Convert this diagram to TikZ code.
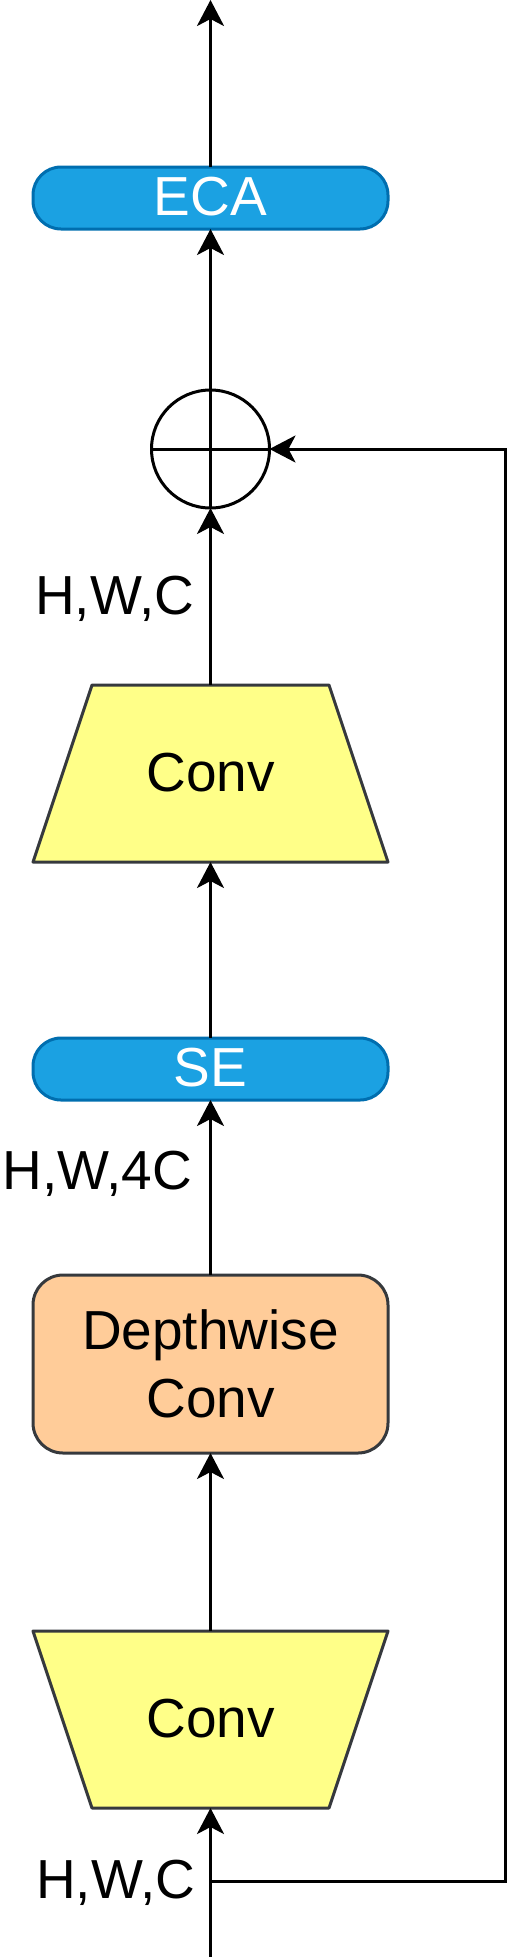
\documentclass[tikz,border=0pt]{standalone}
\usepackage{fontspec}
\setmainfont{Liberation Sans}
\usetikzlibrary{arrows.meta}
\pgfdeclarelayer{bg}
\pgfsetlayers{bg,main}
\definecolor{bluefill}{HTML}{1BA1E2}
\definecolor{bluedraw}{HTML}{006EAF}
\definecolor{convfill}{HTML}{FFFF88}
\definecolor{grayline}{HTML}{36393D}
\definecolor{orangefill}{HTML}{FFCC99}
\begin{document}
\begin{tikzpicture}[x=1pt,y=-1pt,
  every node/.style={inner sep=0pt,outer sep=0pt,font=\fontsize{55}{68}\selectfont},
  bluebox/.style={draw=bluedraw,fill=bluefill,line width=3pt,rounded corners=28pt,
    minimum width=355pt,minimum height=62pt,text=white,text height=34pt,text depth=0pt},
  convtxt/.style={minimum width=355pt,minimum height=177pt,text height=35pt,text depth=0pt},
  convshape/.style={draw=grayline,fill=convfill,line width=3pt,line join=round},
  dwbox/.style={draw=grayline,fill=orangefill,line width=3pt,rounded corners=30pt,
    minimum width=355pt,minimum height=178pt,align=center},
  addnode/.style={circle,draw=black,line width=3pt,minimum size=118pt},
  arr/.style={line width=3pt,-{Stealth[length=26pt,width=27pt,inset=7pt]}},
  plain/.style={line width=3pt},
  lbl/.style={anchor=base east}]
\useasboundingbox (0,0) rectangle (508,1957);

% shapes
\node[bluebox] (eca) at (210.5,198) {ECA};
\node[addnode] (plus) at (210.5,449) {};
\node[convtxt] (conv1) at (210.5,773.5) {Conv};
\node[bluebox] (se) at (210.5,1069) {SE};
\node[dwbox] (dw) at (210.5,1364) {Depthwise\\Conv};
\node[convtxt] (conv2) at (210.5,1719.5) {Conv};

\begin{pgfonlayer}{bg}
\draw[convshape] ([xshift=59pt]conv1.north west) -- ([xshift=-59pt]conv1.north east)
  -- (conv1.south east) -- (conv1.south west) -- cycle;
\draw[convshape] (conv2.north west) -- (conv2.north east)
  -- ([xshift=-59pt]conv2.south east) -- ([xshift=59pt]conv2.south west) -- cycle;
\end{pgfonlayer}

% labels
\node[lbl] (l1) at (194,614) {H,W,C};
\node[lbl] (l2) at (192,1189) {H,W,4C};
\node[lbl] (l3) at (195,1898) {H,W,C};

% coordinates
\coordinate (topend) at (210.5,0);
\coordinate (input) at (210.5,1957);
\coordinate (branch) at (210.5,1881);
\coordinate (rb) at (505,1881);
\coordinate (rt) at (505,449);

% plus sign
\draw[plain] (plus.west) -- (plus.east);
\draw[plain] (plus.north) -- (plus.south);

% connectors
\draw[arr] (eca.north) -- (topend);
\draw[arr] (plus.north) -- (eca.south);
\draw[arr] (conv1.north) -- (plus.south);
\draw[arr] (se.north) -- (conv1.south);
\draw[arr] (dw.north) -- (se.south);
\draw[arr] (conv2.north) -- (dw.south);
\draw[arr] (input) -- (conv2.south);
\draw[arr,line join=miter] (branch) -- (rb) -- (rt) -- (plus.east);
\end{tikzpicture}
\end{document}
